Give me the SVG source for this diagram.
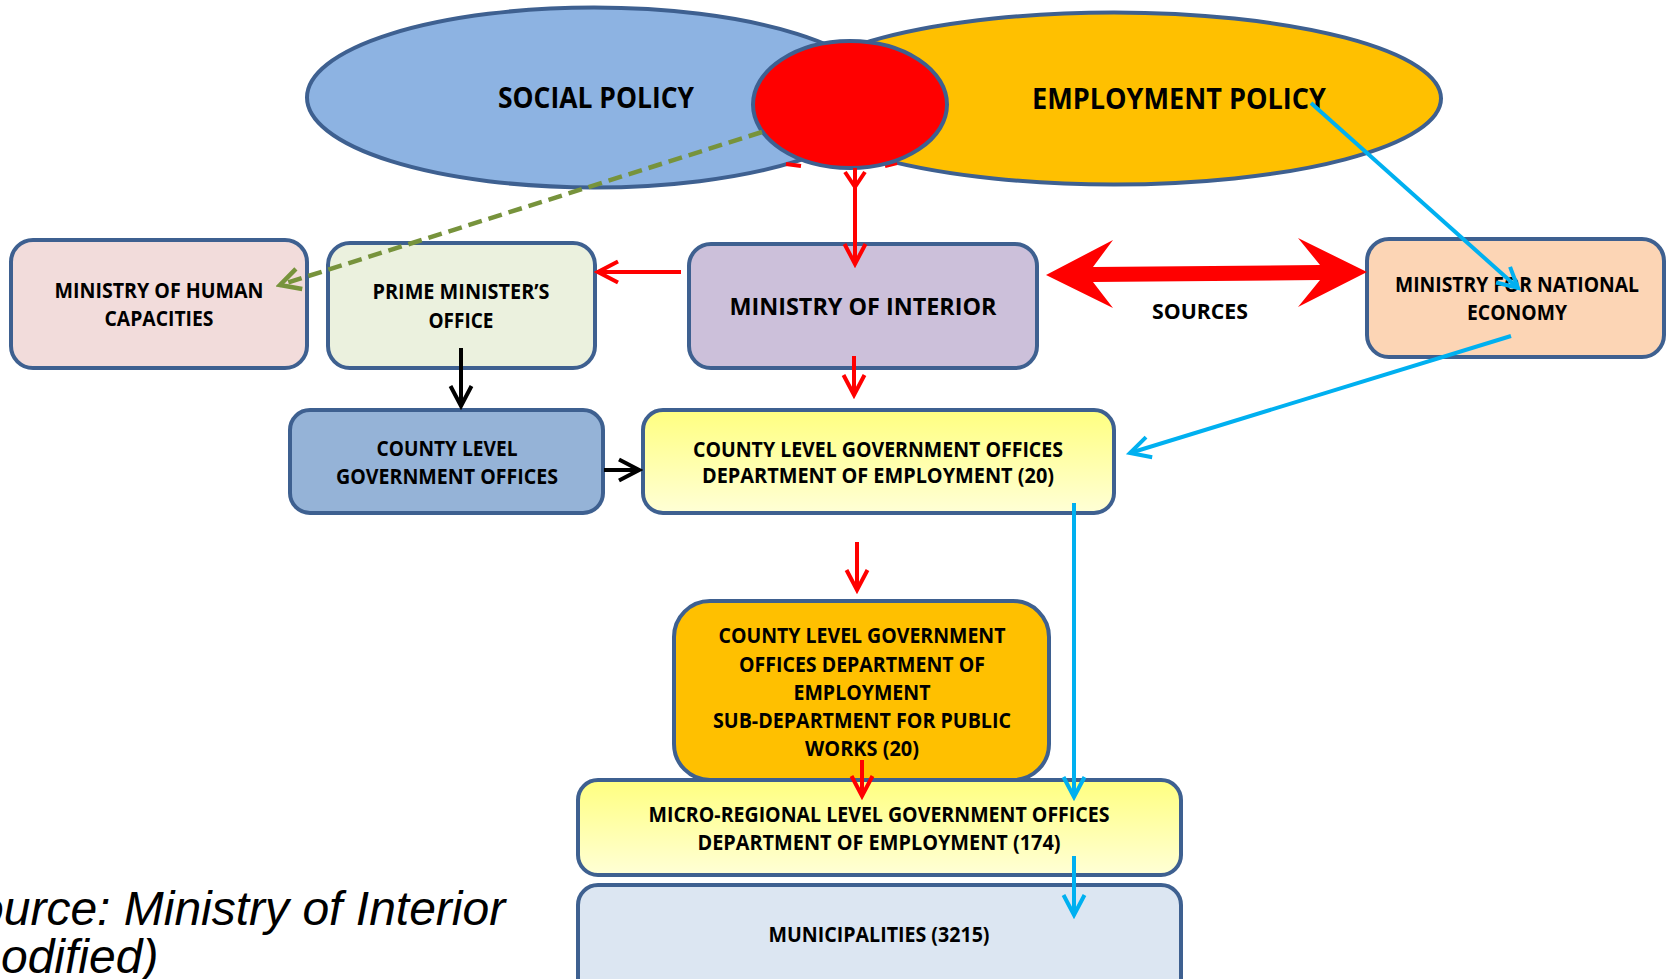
<svg xmlns="http://www.w3.org/2000/svg" width="1667" height="979" viewBox="0 0 1667 979">
  <defs>
    <style>
      .box { stroke: #3E6090; stroke-width: 4; }
      .oval { stroke: #3E6090; stroke-width: 4; }
      .lbl { font-family: "Open Sans", "Liberation Sans", sans-serif; font-weight: 700; font-size: 21px; fill: #000; text-anchor: middle; }
      .big { font-size: 28px; }
      .mid { font-size: 24px; }
      .src { font-family: "Liberation Sans", Arial, sans-serif; font-style: italic; font-size: 48px; fill: #000; }
      .red { stroke: #FF0000; stroke-width: 4; fill: none; }
      .blue { stroke: #00B0F0; stroke-width: 4; fill: none; }
      .black { stroke: #000; stroke-width: 4; fill: none; }
      .green { stroke: #77933C; stroke-width: 4.5; fill: none; stroke-dasharray: 14 7; }
    </style>
    <linearGradient id="yellowFade" x1="0" y1="0" x2="0" y2="1">
      <stop offset="0" stop-color="#FFFF80"/>
      <stop offset="1" stop-color="#FFFFD6"/>
    </linearGradient>
    <marker id="arrRed" markerUnits="userSpaceOnUse" viewBox="-26 -15 30 30" refX="0" refY="0" markerWidth="30" markerHeight="30" orient="auto">
      <path d="M-20,-10.5 L0,0 L-20,10.5" fill="none" stroke="#FF0000" stroke-width="4"/>
    </marker>
    <marker id="arrBlue" markerUnits="userSpaceOnUse" viewBox="-26 -15 30 30" refX="0" refY="0" markerWidth="30" markerHeight="30" orient="auto">
      <path d="M-20,-10.5 L0,0 L-20,10.5" fill="none" stroke="#00B0F0" stroke-width="4"/>
    </marker>
    <marker id="arrBlack" markerUnits="userSpaceOnUse" viewBox="-26 -15 30 30" refX="0" refY="0" markerWidth="30" markerHeight="30" orient="auto">
      <path d="M-20,-10.5 L0,0 L-20,10.5" fill="none" stroke="#000" stroke-width="4"/>
    </marker>
    <marker id="arrGreen" markerUnits="userSpaceOnUse" viewBox="-26 -15 30 30" refX="0" refY="0" markerWidth="30" markerHeight="30" orient="auto">
      <path d="M-20,-10.5 L0,0 L-20,10.5" fill="none" stroke="#77933C" stroke-width="4.5"/>
    </marker>
  </defs>

  <rect x="0" y="0" width="1667" height="979" fill="#FFFFFF"/>

  <!-- policy ovals -->
  <g id="social-policy">
    <ellipse class="oval" cx="594" cy="97.5" rx="287" ry="90" fill="#8DB3E2"/>
  </g>
  <g id="employment-policy">
    <ellipse class="oval" cx="1114" cy="98.5" rx="327" ry="86" fill="#FFC000"/>
  </g>
  <!-- small red marks peeking below the overlap -->
  <path d="M786,164 L801,166 M885,166 L897,163" stroke="#FF0000" stroke-width="4" fill="none"/>
  <g id="policy-overlap">
    <ellipse class="oval" cx="850" cy="104.5" rx="97" ry="63.5" fill="#FF0000"/>
  </g>
  <text class="lbl big" x="596" y="108" textLength="196" lengthAdjust="spacingAndGlyphs">SOCIAL POLICY</text>
  <text class="lbl big" x="1179" y="109" textLength="294" lengthAdjust="spacingAndGlyphs">EMPLOYMENT POLICY</text>

  <!-- ministries -->
  <g id="ministry-human-capacities">
    <rect class="box" x="11" y="240" width="296" height="128" rx="22" fill="#F2DCDB"/>
    <text class="lbl" x="159" y="298" textLength="209" lengthAdjust="spacingAndGlyphs">MINISTRY OF HUMAN</text>
    <text class="lbl" x="159" y="326" textLength="109" lengthAdjust="spacingAndGlyphs">CAPACITIES</text>
  </g>
  <g id="prime-ministers-office">
    <rect class="box" x="328" y="243" width="267" height="125" rx="22" fill="#EBF1DE"/>
    <text class="lbl" x="461" y="299" textLength="177" lengthAdjust="spacingAndGlyphs">PRIME MINISTER’S</text>
    <text class="lbl" x="461" y="328" textLength="65" lengthAdjust="spacingAndGlyphs">OFFICE</text>
  </g>
  <g id="ministry-interior">
    <rect class="box" x="689" y="244" width="348" height="124" rx="22" fill="#CCC0DA"/>
    <text class="lbl mid" x="863" y="315" textLength="267" lengthAdjust="spacingAndGlyphs">MINISTRY OF INTERIOR</text>
  </g>
  <g id="ministry-national-economy">
    <rect class="box" x="1367" y="239" width="297" height="118" rx="22" fill="#FCD5B5"/>
    <text class="lbl" x="1517" y="292" textLength="244" lengthAdjust="spacingAndGlyphs">MINISTRY FOR NATIONAL</text>
    <text class="lbl" x="1517" y="320" textLength="100" lengthAdjust="spacingAndGlyphs">ECONOMY</text>
  </g>

  <!-- county level -->
  <g id="county-offices">
    <rect class="box" x="290" y="410" width="313" height="103" rx="20" fill="#95B3D7"/>
    <text class="lbl" x="447" y="456" textLength="141" lengthAdjust="spacingAndGlyphs">COUNTY LEVEL</text>
    <text class="lbl" x="447" y="484" textLength="222" lengthAdjust="spacingAndGlyphs">GOVERNMENT OFFICES</text>
  </g>
  <g id="county-employment-dept">
    <rect class="box" x="643" y="410" width="471" height="103" rx="20" fill="url(#yellowFade)"/>
    <text class="lbl" x="878" y="457" textLength="370" lengthAdjust="spacingAndGlyphs">COUNTY LEVEL GOVERNMENT OFFICES</text>
    <text class="lbl" x="878" y="483" textLength="352" lengthAdjust="spacingAndGlyphs">DEPARTMENT OF EMPLOYMENT (20)</text>
  </g>

  <!-- local level -->
  <g id="municipalities">
    <rect class="box" x="578" y="885" width="603" height="120" rx="20" fill="#DCE6F2"/>
    <text class="lbl" x="879" y="942" textLength="221" lengthAdjust="spacingAndGlyphs">MUNICIPALITIES (3215)</text>
  </g>
  <g id="micro-regional-dept">
    <rect class="box" x="578" y="780" width="603" height="95" rx="20" fill="url(#yellowFade)"/>
    <text class="lbl" x="879" y="822" textLength="461" lengthAdjust="spacingAndGlyphs">MICRO-REGIONAL LEVEL GOVERNMENT OFFICES</text>
    <text class="lbl" x="879" y="850" textLength="363" lengthAdjust="spacingAndGlyphs">DEPARTMENT OF EMPLOYMENT (174)</text>
  </g>
  <g id="public-works-subdept">
    <rect class="box" x="674" y="601" width="375" height="179" rx="36" fill="#FFC000"/>
    <text class="lbl" x="862" y="643" textLength="287" lengthAdjust="spacingAndGlyphs">COUNTY LEVEL GOVERNMENT</text>
    <text class="lbl" x="862" y="672" textLength="246" lengthAdjust="spacingAndGlyphs">OFFICES DEPARTMENT OF</text>
    <text class="lbl" x="862" y="700" textLength="137" lengthAdjust="spacingAndGlyphs">EMPLOYMENT</text>
    <text class="lbl" x="862" y="728" textLength="298" lengthAdjust="spacingAndGlyphs">SUB-DEPARTMENT FOR PUBLIC</text>
    <text class="lbl" x="862" y="756" textLength="114" lengthAdjust="spacingAndGlyphs">WORKS (20)</text>
  </g>

  <!-- connectors -->
  <g id="connectors">
    <path class="green" d="M762,132 L280,285" marker-end="url(#arrGreen)"/>
    <path class="red" d="M845,172 L855,187 L865,172"/>
    <path class="red" d="M855,168 L855,264" marker-end="url(#arrRed)"/>
    <path class="red" d="M681,272 L598,272" marker-end="url(#arrRed)"/>
    <path class="red" d="M854,356 L854,395" marker-end="url(#arrRed)"/>
    <polygon points="1046,275 1113,240 1093,267 1320,265 1298,238 1367,272 1298,307 1320,280 1093,282 1113,308" fill="#FF0000"/>
    <text class="lbl" x="1200" y="319" font-size="22" textLength="96" lengthAdjust="spacingAndGlyphs">SOURCES</text>
    <path class="blue" d="M1311,103 L1518,288" marker-end="url(#arrBlue)"/>
    <path class="blue" d="M1511,336 L1130,453" marker-end="url(#arrBlue)"/>
    <path class="blue" d="M1074,503 L1074,797" marker-end="url(#arrBlue)"/>
    <path class="blue" d="M1074,856 L1074,915" marker-end="url(#arrBlue)"/>
    <path class="black" d="M461,348 L461,406" marker-end="url(#arrBlack)"/>
    <path class="black" d="M604,470 L639,470" stroke-width="5" marker-end="url(#arrBlack)"/>
    <path class="red" d="M857,542 L857,590" marker-end="url(#arrRed)"/>
    <path class="red" d="M862,760 L862,796" marker-end="url(#arrRed)"/>
  </g>

  <!-- source note -->
  <text class="src" x="-55" y="925">Source: Ministry of Interior</text>
  <text class="src" x="-55" y="973">(modified)</text>
</svg>
